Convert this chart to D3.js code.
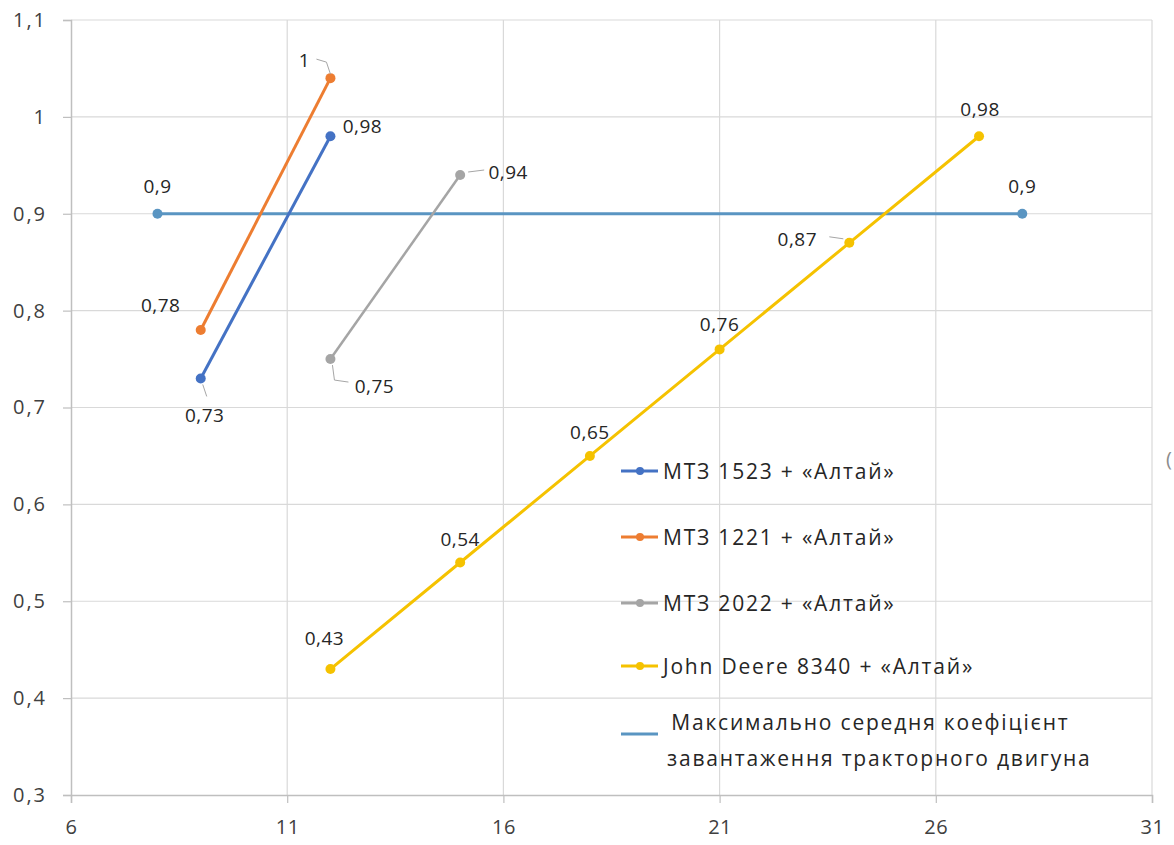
<!DOCTYPE html>
<html>
<head>
<meta charset="utf-8">
<script src="https://cdn.jsdelivr.net/npm/d3@7"></script>
<style>
  html, body { margin: 0; padding: 0; background: #fff; }
  svg { display: block; }
</style>
</head>
<body>
<svg id="chart" width="1174" height="845"></svg>
<script>
// ---- data ----
const xTicks = [6, 11, 16, 21, 26, 31];
const yTicks = [0.3, 0.4, 0.5, 0.6, 0.7, 0.8, 0.9, 1.0, 1.1];

const seriesNames = [
  "МТЗ 1523 + «Алтай»",
  "МТЗ 1221 + «Алтай»",
  "МТЗ 2022 + «Алтай»",
  "John Deere 8340 + «Алтай»",
  " Максимально середня коефіцієнт",
];
const legendSecondLine = "завантаження тракторного двигуна";

const mtz1523X = [9, 12];
const mtz1523Y = [0.73, 0.98];
const mtz1523Labels = ["0,73", "0,98"];

const mtz1221X = [9, 12];
const mtz1221Y = [0.78, 1.04];
const mtz1221Labels = ["0,78", "1"];

const mtz2022X = [12, 15];
const mtz2022Y = [0.75, 0.94];
const mtz2022Labels = ["0,75", "0,94"];

const jdX = [12, 15, 18, 21, 24, 27];
const jdY = [0.43, 0.54, 0.65, 0.76, 0.87, 0.98];
const jdLabels = ["0,43", "0,54", "0,65", "0,76", "0,87", "0,98"];

const maxX = [8, 28];
const maxY = [0.9, 0.9];
const maxLabels = ["0,9", "0,9"];

// ---- styling / layout ----
const colors = ["#4472C4", "#ED7D31", "#A5A5A5", "#F5C200", "#5A95C2"];
// label placement: [dx, dy, leader] relative to the point (text center)
const placements = [
  [[4, 37, [[2, 6], [6, 18]]], [32, -10, null]],
  [[-40, -25, null], [-26, -18, [[-14, -19], [-4, -16], [0, -4]]]],
  [[44, 27, [[2, 6], [4, 21], [18, 23]]], [48, -3, [[8, -3], [24, -5]]]],
  [[-6, -31, null], [0, -24, null], [0, -24, null], [0, -25, null], [-52, -4, [[-20, -6], [-6, -4]]], [1, -27, null]],
  [[0, -28, null], [0, -28, null]],
];

const margin = { left: 71, right: 1152, top: 20, bottom: 795 };
const svg = d3.select("#chart");

const x = d3.scaleLinear().domain([6, 31]).range([margin.left, margin.right]);
const y = d3.scaleLinear().domain([0.3, 1.1]).range([margin.bottom, margin.top]);

const fmt = v => d3.format(".1f")(v).replace(".0", "").replace(".", ",");

// gridlines
svg.append("g").selectAll("line.h").data(yTicks.slice(1)).join("line")
  .attr("x1", margin.left).attr("x2", margin.right)
  .attr("y1", d => y(d)).attr("y2", d => y(d))
  .attr("stroke", "#d9d9d9").attr("stroke-width", 1.2);
svg.append("g").selectAll("line.v").data(xTicks.slice(1)).join("line")
  .attr("x1", d => x(d)).attr("x2", d => x(d))
  .attr("y1", margin.top).attr("y2", margin.bottom)
  .attr("stroke", "#d9d9d9").attr("stroke-width", 1.2);

// axes
const xAxis = d3.axisBottom(x).tickValues(xTicks).tickSize(8).tickPadding(13).tickFormat(d3.format("d"));
const yAxis = d3.axisLeft(y).tickValues(yTicks).tickSize(8).tickPadding(16).tickFormat(fmt);

const gx = svg.append("g").attr("transform", `translate(0,${margin.bottom})`).call(xAxis);
const gy = svg.append("g").attr("transform", `translate(${margin.left},0)`).call(yAxis);
[gx, gy].forEach(g => {
  g.select(".domain").attr("stroke", "#bfbfbf").attr("stroke-width", 1.5);
  g.selectAll(".tick line").attr("stroke", "#bfbfbf").attr("stroke-width", 1.2);
  g.selectAll(".tick text").attr("fill", "#404040")
    .style("font-family", "'Open Sans', sans-serif").style("font-size", "20px");
});
gy.selectAll(".tick text").style("letter-spacing", "2px");
gx.selectAll(".tick text").style("letter-spacing", "0.5px").attr("dy", "0.9em");

// series
const allSeries = [
  { xs: mtz1523X, ys: mtz1523Y, labels: mtz1523Labels },
  { xs: mtz1221X, ys: mtz1221Y, labels: mtz1221Labels },
  { xs: mtz2022X, ys: mtz2022Y, labels: mtz2022Labels },
  { xs: jdX, ys: jdY, labels: jdLabels },
  { xs: maxX, ys: maxY, labels: maxLabels },
];
const drawOrder = [4, 0, 1, 2, 3];
const line = d3.line().x(d => x(d[0])).y(d => y(d[1]));

drawOrder.forEach(i => {
  const s = allSeries[i];
  const pts = s.xs.map((v, k) => [v, s.ys[k]]);
  const g = svg.append("g");
  g.append("path").datum(pts).attr("d", line)
    .attr("fill", "none").attr("stroke", colors[i])
    .attr("stroke-width", i === 2 ? 2.5 : 3).attr("stroke-linejoin", "round");
  g.selectAll("circle").data(pts).join("circle")
    .attr("cx", d => x(d[0])).attr("cy", d => y(d[1])).attr("r", 5)
    .attr("fill", colors[i]);
});

// data labels
allSeries.forEach((s, i) => {
  s.xs.forEach((v, k) => {
    const px = x(v), py = y(s.ys[k]);
    const [dx, dy, leader] = placements[i][k];
    if (leader) {
      const ptsL = leader.map(p => [px + p[0], py + p[1]]);
      svg.append("path").attr("d", d3.line()(ptsL))
        .attr("fill", "none").attr("stroke", "#a6a6a6").attr("stroke-width", 1);
    }
    svg.append("text").attr("x", px + dx).attr("y", py + dy)
      .attr("text-anchor", "middle").attr("dominant-baseline", "central")
      .attr("fill", "#262626")
      .style("font-family", "'Open Sans', sans-serif").style("font-size", "19px")
      .style("letter-spacing", "0.5px")
      .text(s.labels[k]);
  });
});

// legend
const legendRows = [471, 537, 603, 666, 722];
const legendFont = sel => sel.attr("dominant-baseline", "central").attr("fill", "#262626")
  .style("font-family", "'Open Sans', sans-serif").style("font-size", "21px")
  .style("letter-spacing", "1.8px").style("white-space", "pre");
const legend = svg.append("g");
seriesNames.forEach((name, i) => {
  const ly = legendRows[i] + (i === 4 ? 12 : 0);
  legend.append("line").attr("x1", 621).attr("x2", 658).attr("y1", ly).attr("y2", ly)
    .attr("stroke", colors[i]).attr("stroke-width", 3);
  if (i < 4) {
    legend.append("circle").attr("cx", 640).attr("cy", ly).attr("r", 4).attr("fill", colors[i]);
  }
  legend.append("text").attr("x", i === 4 ? 664 : 663).attr("y", legendRows[i])
    .attr("xml:space", "preserve").call(legendFont).text(name);
});
legend.append("text").attr("x", 667).attr("y", 758).call(legendFont).text(legendSecondLine);

// clipped fragment at right edge
svg.append("text").attr("x", 1166).attr("y", 458).attr("dominant-baseline", "central")
  .attr("fill", "#8c8c8c").style("font-family", "'Open Sans', sans-serif").style("font-size", "20px")
  .text("(");
</script>
</body>
</html>
